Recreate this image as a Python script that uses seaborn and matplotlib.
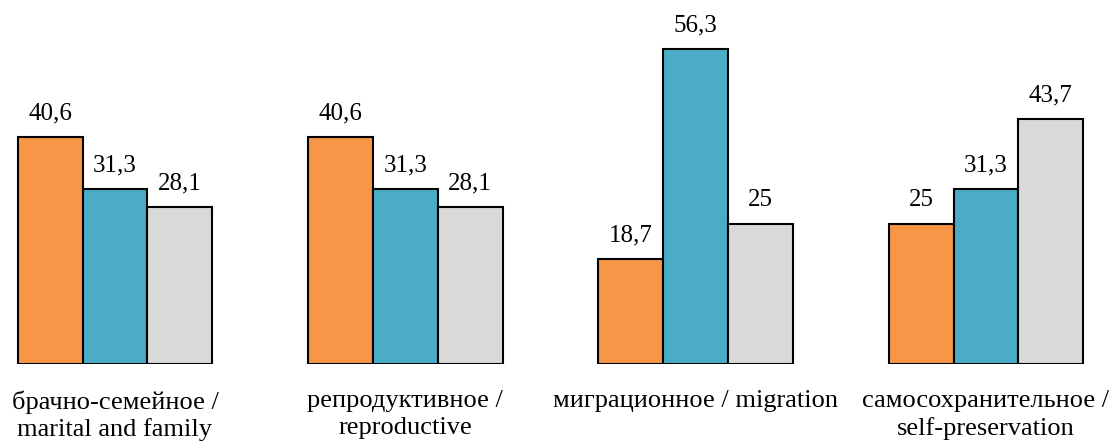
import pandas as pd
import matplotlib
matplotlib.use('Agg')
import matplotlib.pyplot as plt
import seaborn as sns

categories = ['брачно-семейное /\nmarital and family', 'репродуктивное /\nreproductive',
              'миграционное / migration', 'самосохранительное /\nself-preservation']
series = ['s1', 's2', 's3']
s1 = [40.6, 40.6, 18.7, 25]
s2 = [31.3, 31.3, 56.3, 31.3]
s3 = [28.1, 28.1, 25, 43.7]
colors = ['#F79646', '#4BACC6', '#D9D9D9']

rows = []
for name, vals in zip(series, [s1, s2, s3]):
    for cat, v in zip(categories, vals):
        rows.append({'cat': cat, 'series': name, 'value': v})
df = pd.DataFrame(rows)

sns.set_style('white')
plt.rcParams['font.family'] = ['Liberation Serif', 'DejaVu Serif']
plt.rcParams['text.color'] = 'black'
plt.rcParams['xtick.color'] = 'black'

fig = plt.figure(figsize=(11.14, 4.41), dpi=100)
ax = fig.add_axes([0, 77 / 441, 1, 364 / 441])
sns.barplot(data=df, x='cat', y='value', hue='series', hue_order=series,
            palette=colors, width=0.67, edgecolor='black', linewidth=1.5,
            saturation=1, legend=False, ax=ax)

for cont in ax.containers:
    labels = [('%g' % v).replace('.', ',') for v in cont.datavalues]
    ax.bar_label(cont, labels=labels, padding=9, fontsize=18, color='black')

ax.set_xlim(-0.396, 3.441)
ax.set_ylim(0, 65)
ax.set_xlabel('')
ax.set_ylabel('')
ax.set_yticks([])
ax.tick_params(axis='x', length=0, pad=19, labelsize=19, labelcolor='black')
for t in ax.get_xticklabels():
    t.set_linespacing(1.25)
for s in ax.spines.values():
    s.set_visible(False)

fig.savefig('out.png', dpi=100)
